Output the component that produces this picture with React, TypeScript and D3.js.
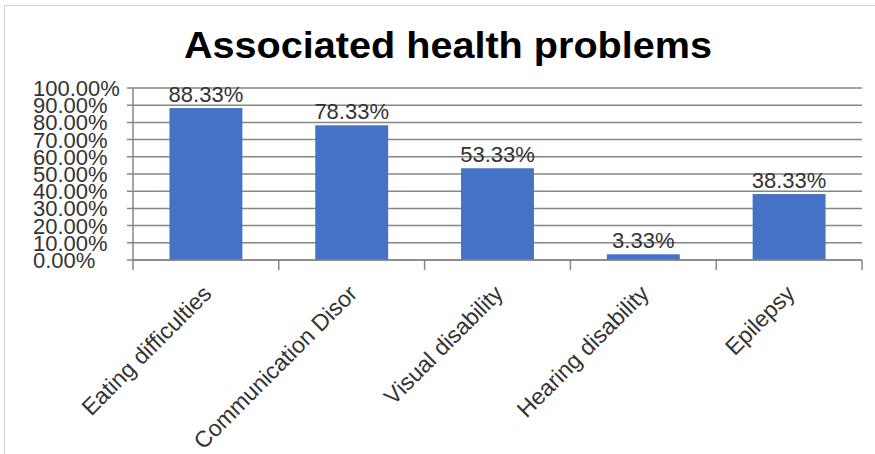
import React from "react";
import * as d3 from "d3";

const categories = ["Eating difficulties", "Communication Disor", "Visual disability", "Hearing disability", "Epilepsy"];
const values = [88.33, 78.33, 53.33, 3.33, 38.33];
const yTicks = [0, 10, 20, 30, 40, 50, 60, 70, 80, 90, 100];
const title = "Associated health problems";

const W = 875;
const H = 454;
const left = 133;
const right = 862;
const top = 88;
const bottom = 260;

export default function App() {
  const x = d3.scaleBand<string>().domain(categories).range([left, right]).paddingInner(0.5).paddingOuter(0.25);
  const xEdges = d3.scaleBand<string>().domain(categories).range([left, right]);
  const y = d3.scaleLinear().domain([0, 100]).range([bottom, top]);
  const font = "'Liberation Sans', Arial, sans-serif";
  const grid = "#868686";
  const fmt = (v: number) => v.toFixed(2) + "%";

  return (
    <svg width={W} height={H} style={{ position: "absolute", left: 0, top: 0, background: "#fff" }}>
      <rect x={4.5} y={5.5} width={W + 10} height={H + 10} fill="#fff" stroke="#d0d0d0" strokeWidth={1} />
      <text x={448} y={58} textAnchor="middle" fontFamily={font} fontWeight="bold" fontSize={36} textLength={528} lengthAdjust="spacingAndGlyphs" fill="#000">
        {title}
      </text>
      {yTicks.map((t) => (
        <g key={t}>
          <line x1={left - 6} x2={right} y1={y(t)} y2={y(t)} stroke={grid} strokeWidth={1.5} />
          <text x={33} y={y(t)} dy="0.36em" fontFamily={font} fontSize={22} fill="#333">
            {fmt(t)}
          </text>
        </g>
      ))}
      {categories.map((c, i) => (
        <rect key={c} x={x(c)} y={y(values[i])} width={x.bandwidth()} height={y(0) - y(values[i])} fill="#4472C4" />
      ))}
      {categories.map((c, i) => (
        <text key={c + "l"} x={(x(c) as number) + x.bandwidth() / 2} y={y(values[i]) - 6} textAnchor="middle" fontFamily={font} fontSize={22} fill="#333">
          {fmt(values[i])}
        </text>
      ))}
      <line x1={left} x2={left} y1={top} y2={bottom} stroke={grid} strokeWidth={1.5} />
      <line x1={left} x2={right} y1={bottom} y2={bottom} stroke={grid} strokeWidth={1.5} />
      {categories.map((c) => (
        <line key={c + "t"} x1={xEdges(c)} x2={xEdges(c)} y1={bottom} y2={bottom + 10} stroke={grid} strokeWidth={1.5} />
      ))}
      <line x1={right} x2={right} y1={bottom} y2={bottom + 10} stroke={grid} strokeWidth={1.5} />
      {categories.map((c) => {
        const cx = (xEdges(c) as number) + xEdges.bandwidth() / 2 + 7;
        return (
          <text key={c + "x"} transform={`translate(${cx},295) rotate(-45)`} textAnchor="end" fontFamily={font} fontSize={23} fill="#333">
            {c}
          </text>
        );
      })}
    </svg>
  );
}
